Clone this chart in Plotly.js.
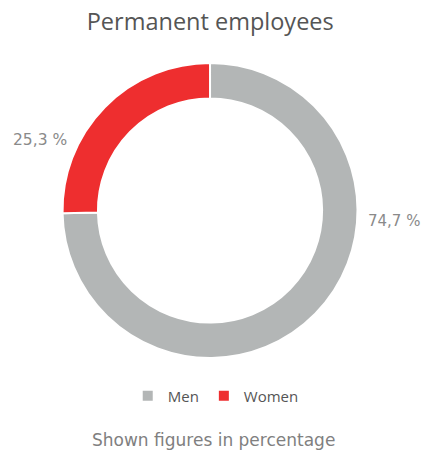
<!DOCTYPE html>
<html>
<head>
<meta charset="utf-8">
<script src="https://cdn.plot.ly/plotly-3.0.1.min.js"></script>
<style>html,body{margin:0;padding:0;background:#fff;}#chart{width:423px;height:452px;}</style>
</head>
<body>
<div id="chart"></div>
<script>
const categories = ["Men", "Women"];
const values = [74.7, 25.3];
const colors = ["#B3B6B6", "#EE2E2F"];
const titleText = "Permanent employees";
const footnote = "Shown figures in percentage";

function fmt(v) { return v.toFixed(1).replace(".", ",") + " %"; }

const trace = {
  type: "pie",
  labels: categories,
  values: values,
  marker: { colors: colors, line: { color: "#ffffff", width: 2 } },
  hole: 0.76,
  sort: false,
  direction: "clockwise",
  rotation: 0,
  textinfo: "none",
  hoverinfo: "label+percent",
  domain: { x: [0.1478, 0.8452], y: [0.208, 0.8606] }
};

const labelFont = { family: "DejaVu Sans, sans-serif", size: 15.5, color: "#8a8a8a" };

const layout = {
  width: 423, height: 452,
  margin: { l: 0, r: 0, t: 0, b: 0 },
  paper_bgcolor: "#ffffff",
  title: {
    text: titleText,
    font: { family: "Open Sans, sans-serif", size: 23.5, color: "#555555" },
    x: 0.497, xanchor: "center", y: 0.951, yanchor: "middle"
  },
  showlegend: true,
  legend: {
    orientation: "h", x: 0.51, xanchor: "center", y: 0.124, yanchor: "middle",
    font: { family: "Open Sans, sans-serif", size: 15, color: "#555555" },
    itemwidth: 30, traceorder: "normal"
  },
  annotations: [
    { text: fmt(values[0]), xref: "paper", yref: "paper", x: 0.997, y: 0.51,
      xanchor: "right", yanchor: "middle", showarrow: false,
      font: { family: "DejaVu Sans, sans-serif", size: 15, color: "#8a8a8a" } },
    { text: fmt(values[1]), xref: "paper", yref: "paper", x: 0.095, y: 0.69,
      xanchor: "center", yanchor: "middle", showarrow: false, font: labelFont },
    { text: footnote, xref: "paper", yref: "paper", x: 0.505, y: 0.027,
      xanchor: "center", yanchor: "middle", showarrow: false,
      font: { family: "DejaVu Sans, sans-serif", size: 17, color: "#808080" } }
  ]
};

Plotly.newPlot("chart", [trace], layout, { displayModeBar: false, staticPlot: true });
</script>
</body>
</html>
